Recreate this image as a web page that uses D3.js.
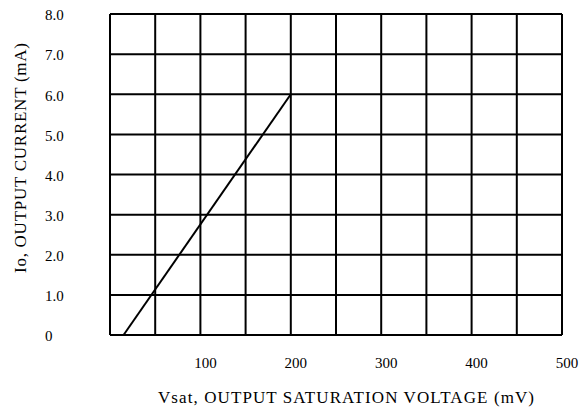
<!DOCTYPE html>
<html>
<head>
<meta charset="utf-8">
<script src="https://cdn.jsdelivr.net/npm/d3@7"></script>
<style>
  body { margin: 0; background: #fff; }
  text { font-family: "Liberation Serif", "Times New Roman", serif; fill: #000; }
</style>
</head>
<body>
<div id="chart"></div>
<script>
var width = 582, height = 410;

// data
var xTicks = [100, 200, 300, 400, 500];
var yTicks = [0, 1, 2, 3, 4, 5, 6, 7, 8];
var vsat = [15, 200];      // mV
var iout = [0, 6.0];       // mA

var margin = {left: 110, right: 20, top: 14, bottom: 75};

var svg = d3.select("#chart").append("svg")
  .attr("width", width)
  .attr("height", height);

var x = d3.scaleLinear().domain([0, 500]).range([margin.left, width - margin.right]);
var y = d3.scaleLinear().domain([0, 8]).range([height - margin.bottom, margin.top]);

var grid = svg.append("g").attr("stroke", "#000").attr("stroke-width", 2);

// vertical grid every 50 mV
d3.range(0, 501, 50).forEach(function(v) {
  grid.append("line")
    .attr("x1", x(v)).attr("x2", x(v))
    .attr("y1", y(0)).attr("y2", y(8));
});
yTicks.forEach(function(v) {
  grid.append("line")
    .attr("x1", x(0)).attr("x2", x(500))
    .attr("y1", y(v)).attr("y2", y(v));
});

// y labels, left aligned
svg.append("g").selectAll("text")
  .data(yTicks)
  .enter().append("text")
  .attr("x", 45)
  .attr("y", function(d) { return y(d) + 1; })
  .attr("dy", "0.35em")
  .style("font-size", "15px")
  .text(function(d) { return d === 0 ? "0" : d3.format(".1f")(d); });

// x labels
svg.append("g").selectAll("text")
  .data(xTicks)
  .enter().append("text")
  .attr("x", function(d) { return x(d) + 5; })
  .attr("y", 363)
  .attr("dy", "0.35em")
  .attr("text-anchor", "middle")
  .style("font-size", "15px")
  .text(function(d) { return d; });

// curve
var line = d3.line()
  .x(function(d) { return x(d[0]); })
  .y(function(d) { return y(d[1]); });

svg.append("path")
  .datum(d3.zip(vsat, iout))
  .attr("d", line)
  .attr("fill", "none")
  .attr("stroke", "#000")
  .attr("stroke-width", 2);

// axis titles
svg.append("text")
  .attr("x", 346)
  .attr("y", 403)
  .attr("text-anchor", "middle")
  .attr("textLength", 376)
  .attr("lengthAdjust", "spacing")
  .style("font-size", "17px")
  .text("Vsat, OUTPUT SATURATION VOLTAGE (mV)");

svg.append("text")
  .attr("transform", "translate(26," + 158 + ") rotate(-90)")
  .attr("text-anchor", "middle")
  .attr("textLength", 230)
  .attr("lengthAdjust", "spacing")
  .style("font-size", "17px")
  .text("Io, OUTPUT CURRENT (mA)");
</script>
</body>
</html>
